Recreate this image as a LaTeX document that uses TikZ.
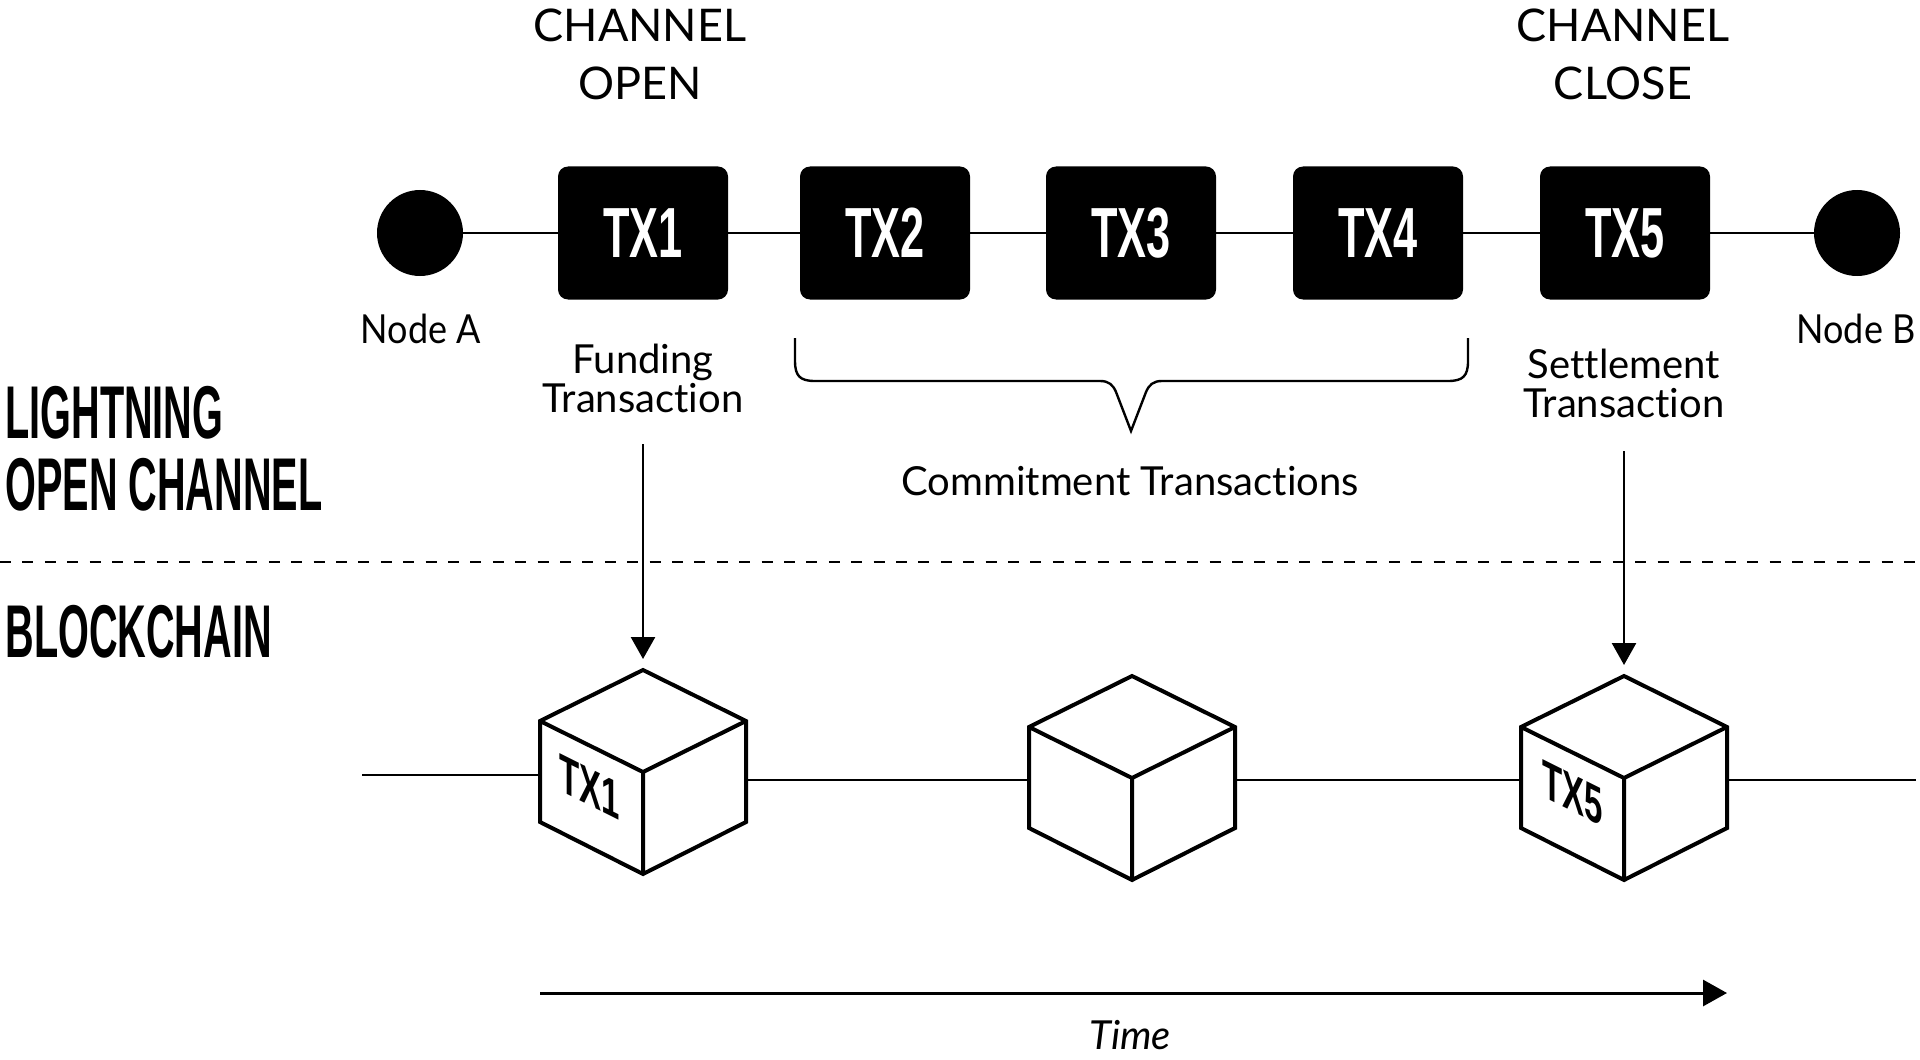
\documentclass[tikz,border=0pt]{standalone}
\usepackage{fontspec}
\setmainfont{Lato}[Ligatures=NoCommon]
\newfontfamily\narrowfont{Lato}[FakeStretch=0.9]
\newfontfamily\headfont{Liberation Sans}[FakeStretch=0.53]
\newfontfamily\txfont{Liberation Sans}[FakeStretch=0.61]
\usetikzlibrary{arrows.meta}
\newcommand\drawcube[3]{%
  \coordinate (#1t) at (#2,#3);
  \coordinate (#1ul) at ({#2-103},{#3+51});
  \coordinate (#1ur) at ({#2+103},{#3+51});
  \coordinate (#1c) at (#2,{#3+102});
  \coordinate (#1ll) at ({#2-103},{#3+152});
  \coordinate (#1lr) at ({#2+103},{#3+152});
  \coordinate (#1b) at (#2,{#3+204});
  \draw[cubeedge] (#1t) -- (#1ur) -- (#1lr) -- (#1b) -- (#1ll) -- (#1ul) -- cycle
    (#1ul) -- (#1c) -- (#1ur) (#1c) -- (#1b);
}
\begin{document}
\begin{tikzpicture}[x=0.5pt,y=-0.5pt,
  conn/.style={line width=1.3pt},
  txbox/.style={fill=black, rounded corners=5pt, minimum width=85pt, minimum height=66.5pt, inner sep=0pt, text=white, font=\txfont\bfseries\fontsize{35.5}{40}\selectfont},
  endpt/.style={circle, fill=black, minimum size=43pt, inner sep=0pt},
  lbl/.style={font=\fontsize{20}{24}\selectfont, anchor=base, inner sep=0pt},
  nlbl/.style={font=\narrowfont\fontsize{20}{24}\selectfont, anchor=base, inner sep=0pt},
  head/.style={font=\fontsize{22.5}{28}\selectfont, anchor=base, inner sep=0pt},
  side/.style={font=\headfont\bfseries\fontsize{37.4}{44}\selectfont, anchor=base west, inner sep=0pt},
  cubeedge/.style={line width=2pt, line join=miter},
  cubetxt/.style={font=\txfont\bfseries\fontsize{27}{30}\selectfont, inner sep=0pt, yslant=-0.5, transform shape},
  arr/.style={line width=1.3pt, -{Triangle[length=11pt,width=12pt]}},
]
\useasboundingbox (0,0) rectangle (1920,1059);

% top row
\node[endpt] (A) at (420,233) {};
\node[txbox] (tx1) at (643,233) {TX1};
\node[txbox] (tx2) at (885,233) {TX2};
\node[txbox] (tx3) at (1131,233) {TX3};
\node[txbox] (tx4) at (1378,233) {TX4};
\node[txbox] (tx5) at (1625,233) {TX5};
\node[endpt] (B) at (1857,233) {};
\draw[conn] (A) -- (tx1) -- (tx2) -- (tx3) -- (tx4) -- (tx5) -- (B);

% headings
\node[head] (co1) at (640,42) {CHANNEL};
\node[head] (co2) at (640,100) {OPEN};
\node[head] (cc1) at (1623,42) {CHANNEL};
\node[head] (cc2) at (1623,100) {CLOSE};

% labels
\node[nlbl] (na) at (421,343) {Node A};
\node[nlbl] (nb) at (1856,343) {Node B};
\node[lbl] (f1) at (643,373) {Funding};
\node[lbl] (f2) at (643,412) {Transaction};
\node[lbl] (s1) at (1624,378) {Settlement};
\node[lbl] (s2) at (1624,417) {Transaction};
\node[lbl] (ct) at (1130,495) {Commitment Transactions};
\node[lbl, font=\itshape\fontsize{20}{24}\selectfont] (time) at (1130,1049) {Time};

% side labels
\node[side] (l1) at (5,438) {LIGHTNING};
\node[side] (l2) at (5,510) {OPEN CHANNEL};
\node[side] (bc) at (5,657) {BLOCKCHAIN};

% dashed separator
\coordinate (dl) at (0,562);
\coordinate (dr) at (1920,562);
\draw[line width=1.3pt, dash pattern=on 5.5pt off 5.7pt] (dl) -- (dr);

% brace
\draw[line width=1.2pt] (795,338) -- (795,361) .. controls (795,376) and (800,381) .. (815,381)
  -- (1100,381) .. controls (1109,381) and (1113,385) .. (1116,392) -- (1131,431)
  -- (1146,392) .. controls (1149,385) and (1153,381) .. (1162,381)
  -- (1448,381) .. controls (1463,381) and (1468,376) .. (1468,361) -- (1468,338);

% cubes
\drawcube{k1}{643}{670}
\drawcube{k2}{1132}{676}
\drawcube{k3}{1624}{676}
\node[cubetxt] (kt1) at (590,787) {TX1};
\node[cubetxt] (kt5) at (1573,793) {TX5};

% chain connectors
\coordinate (chainL) at (362,775);
\coordinate (k1lm) at (540,775);
\coordinate (k1rm) at (746,780);
\coordinate (k2lm) at (1029,780);
\coordinate (k2rm) at (1235,780);
\coordinate (k3lm) at (1521,780);
\coordinate (k3rm) at (1727,780);
\coordinate (chainR) at (1916,780);
\draw[conn] (chainL) -- (k1lm);
\draw[conn] (k1rm) -- (k2lm);
\draw[conn] (k2rm) -- (k3lm);
\draw[conn] (k3rm) -- (chainR);

% arrows down
\coordinate (fa) at (643,444);
\coordinate (fb) at (643,659);
\coordinate (sa) at (1624,451);
\coordinate (sb) at (1624,665);
\draw[arr] (fa) -- (fb);
\draw[arr] (sa) -- (sb);

% time arrow
\coordinate (t0) at (540,993);
\coordinate (t1) at (1727,993);
\draw[line width=1.5pt, -{Triangle[length=12pt,width=13pt]}] (t0) -- (t1);
\end{tikzpicture}
\end{document}
